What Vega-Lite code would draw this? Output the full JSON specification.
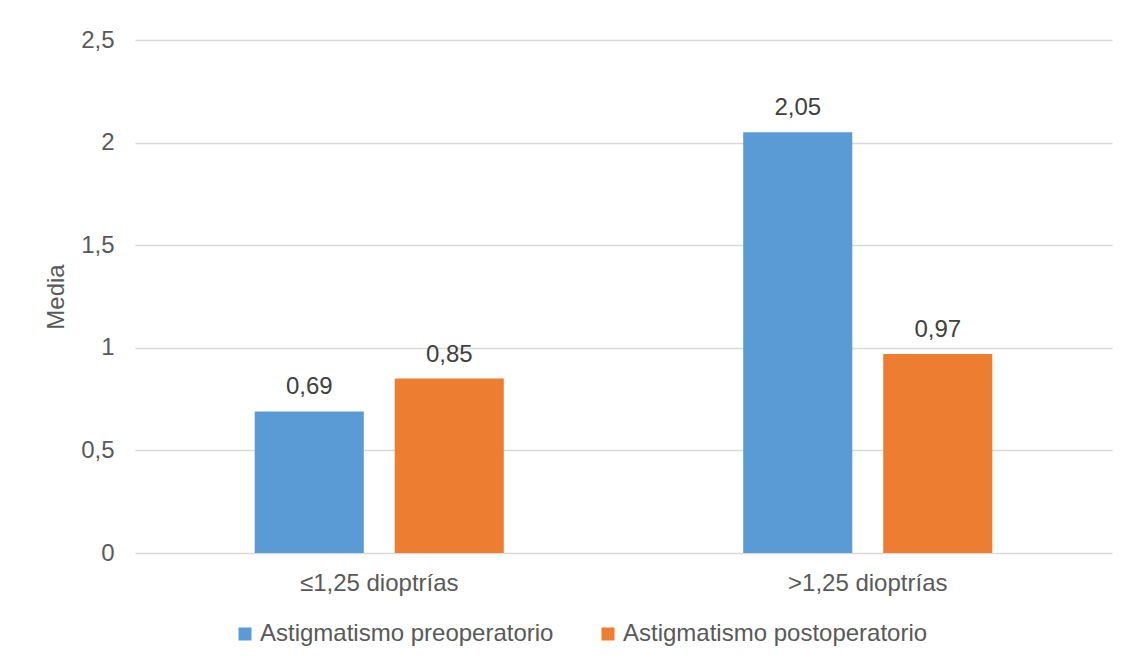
{
  "$schema": "https://vega.github.io/schema/vega-lite/v6.json",
  "width": 977,
  "height": 513,
  "autosize": {"type": "none"},
  "padding": {"left": 135, "top": 40, "right": 18, "bottom": 109},
  "background": "white",
  "config": {
    "locale": {"number": {"decimal": ",", "thousands": ".", "grouping": [3], "currency": ["", " €"]}},
    "font": "Liberation Sans",
    "view": {"stroke": null},
    "axis": {"labelFont": "Liberation Sans", "titleFont": "Liberation Sans"}
  },
  "data": {
    "values": [
      {"grupo": "≤1,25 dioptrías", "serie": "Astigmatismo preoperatorio", "media": 0.69},
      {"grupo": "≤1,25 dioptrías", "serie": "Astigmatismo postoperatorio", "media": 0.85},
      {"grupo": ">1,25 dioptrías", "serie": "Astigmatismo preoperatorio", "media": 2.05},
      {"grupo": ">1,25 dioptrías", "serie": "Astigmatismo postoperatorio", "media": 0.97}
    ]
  },
  "encoding": {
    "x": {
      "field": "grupo",
      "type": "nominal",
      "sort": ["≤1,25 dioptrías", ">1,25 dioptrías"],
      "scale": {"paddingInner": 0, "paddingOuter": 0},
      "axis": {
        "title": null,
        "labelAngle": 0,
        "domain": false,
        "ticks": false,
        "labelFontSize": 24,
        "labelColor": "#595959",
        "labelPadding": 18,
        "labelBaseline": "top"
      }
    },
    "xOffset": {
      "field": "serie",
      "type": "nominal",
      "sort": ["Astigmatismo preoperatorio", "Astigmatismo postoperatorio"],
      "scale": {"paddingInner": 0.221, "paddingOuter": 0.855}
    },
    "y": {
      "field": "media",
      "type": "quantitative",
      "scale": {"domain": [0, 2.5], "nice": false},
      "axis": {
        "title": "Media",
        "titleFontSize": 24,
        "titleFontWeight": "normal",
        "titleColor": "#595959",
        "titlePadding": 12,
        "values": [0, 0.5, 1, 1.5, 2, 2.5],
        "format": "~g",
        "domain": false,
        "ticks": false,
        "labelFontSize": 24,
        "labelColor": "#595959",
        "labelPadding": 21,
        "grid": true,
        "gridColor": "#d9d9d9",
        "gridWidth": 1.5
      }
    }
  },
  "layer": [
    {
      "mark": {"type": "bar"},
      "encoding": {
        "color": {
          "field": "serie",
          "type": "nominal",
          "sort": ["Astigmatismo preoperatorio", "Astigmatismo postoperatorio"],
          "scale": {"range": ["#5b9bd5", "#ed7d31"]},
          "legend": {
            "title": null,
            "orient": "none",
            "direction": "horizontal",
            "legendX": 98,
            "legendY": 582,
            "symbolType": "square",
            "symbolSize": 169,
            "symbolStrokeWidth": 0,
            "labelFontSize": 24,
            "labelColor": "#595959",
            "labelOffset": 3,
            "labelLimit": 600,
            "columnPadding": 42
          }
        }
      }
    },
    {
      "mark": {"type": "text", "baseline": "alphabetic", "dy": -17, "fontSize": 24, "color": "#404040"},
      "encoding": {
        "text": {"field": "media", "type": "quantitative", "format": ".2f"}
      }
    }
  ]
}
